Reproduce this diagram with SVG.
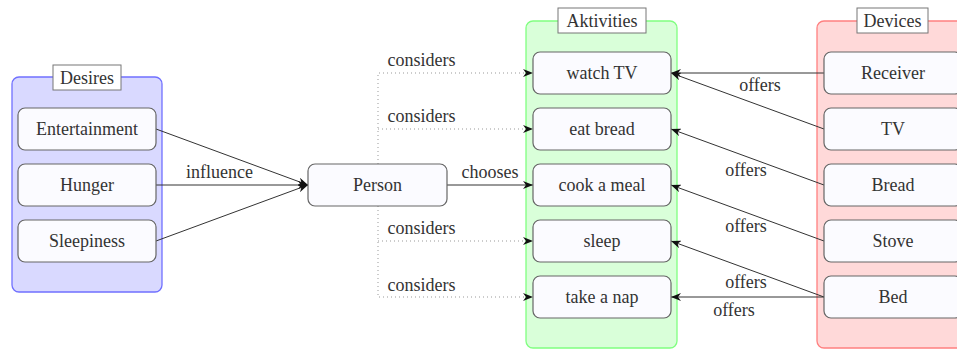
<svg xmlns="http://www.w3.org/2000/svg" width="957" height="349" viewBox="0 0 957 349" font-family="'Liberation Serif', 'DejaVu Serif', serif">
<style>
text{font-family:'Liberation Serif','DejaVu Serif',serif;font-size:18px;fill:#333;text-anchor:middle}
.node{fill:#fbfbff;stroke:#666;stroke-width:1.2}
.lbl{fill:#fff;stroke:#777;stroke-width:1}
.edge{fill:none;stroke:#333;stroke-width:1}
.dot{fill:none;stroke:#999;stroke-width:1;stroke-dasharray:1 3}
</style>
<defs>
<marker id="ah" markerUnits="userSpaceOnUse" markerWidth="11" markerHeight="8" refX="10" refY="4" orient="auto">
<path d="M0,0 L10,4 L0,8 L3,4 z" fill="#111"/>
</marker>
</defs>

<g id="desires">
<rect x="12" y="77" width="150" height="215" rx="7" fill="#d9d9ff" stroke="#7070ff" stroke-width="1.3"/>
<rect class="lbl" x="53" y="65" width="68" height="25"/>
<text x="87" y="84">Desires</text>
</g>
<g id="aktivities">
<rect x="526" y="21" width="151" height="327" rx="7" fill="#d9ffd9" stroke="#80ff80" stroke-width="1.3"/>
<rect class="lbl" x="558" y="8" width="88" height="25"/>
<text x="602" y="27">Aktivities</text>
</g>
<g id="devices">
<rect x="817" y="21" width="151" height="327" rx="7" fill="#ffd9d9" stroke="#ff8080" stroke-width="1.3"/>
<rect class="lbl" x="857" y="8" width="71" height="25"/>
<text x="892.5" y="27">Devices</text>
</g>

<g id="connectors">
<line class="edge" x1="156" y1="129" x2="308" y2="185" marker-end="url(#ah)"/>
<line class="edge" x1="156" y1="185" x2="308" y2="185" marker-end="url(#ah)"/>
<line class="edge" x1="156" y1="241" x2="308" y2="185" marker-end="url(#ah)"/>
<text x="219.5" y="178">influence</text>
<line class="edge" x1="447" y1="185" x2="533" y2="185" marker-end="url(#ah)"/>
<text x="490" y="178">chooses</text>
<path class="dot" d="M378,164 V73 H531"/>
<path class="dot" d="M378,129 H531"/>
<path class="dot" d="M378,206 V297 H531"/>
<path class="dot" d="M378,241 H531"/>
<line x1="528" y1="73" x2="533" y2="73" stroke="none" marker-end="url(#ah)"/>
<line x1="528" y1="129" x2="533" y2="129" stroke="none" marker-end="url(#ah)"/>
<line x1="528" y1="241" x2="533" y2="241" stroke="none" marker-end="url(#ah)"/>
<line x1="528" y1="297" x2="533" y2="297" stroke="none" marker-end="url(#ah)"/>
<text x="421.5" y="66">considers</text>
<text x="421.5" y="122">considers</text>
<text x="421.5" y="234">considers</text>
<text x="421.5" y="291">considers</text>
<line class="edge" x1="824" y1="73" x2="671" y2="73" marker-end="url(#ah)"/>
<line class="edge" x1="824" y1="129" x2="671" y2="73" marker-end="url(#ah)"/>
<line class="edge" x1="824" y1="185" x2="671" y2="129" marker-end="url(#ah)"/>
<line class="edge" x1="824" y1="241" x2="671" y2="185" marker-end="url(#ah)"/>
<line class="edge" x1="824" y1="297" x2="671" y2="241" marker-end="url(#ah)"/>
<line class="edge" x1="824" y1="297" x2="671" y2="297" marker-end="url(#ah)"/>
<text x="760" y="91">offers</text>
<text x="746" y="176">offers</text>
<text x="746" y="232">offers</text>
<text x="746" y="288">offers</text>
<text x="734" y="316">offers</text>
</g>

<g id="entertainment"><rect class="node" x="18" y="108" width="138" height="42" rx="7"/><text x="87" y="135">Entertainment</text></g>
<g id="hunger"><rect class="node" x="18" y="164" width="138" height="42" rx="7"/><text x="87" y="191">Hunger</text></g>
<g id="sleepiness"><rect class="node" x="18" y="220" width="138" height="42" rx="7"/><text x="87" y="247">Sleepiness</text></g>

<g id="person"><rect class="node" x="308" y="164" width="139" height="42" rx="7"/><text x="377.5" y="191">Person</text></g>

<g id="watchtv"><rect class="node" x="533" y="52" width="138" height="42" rx="7"/><text x="602" y="79">watch TV</text></g>
<g id="eatbread"><rect class="node" x="533" y="108" width="138" height="42" rx="7"/><text x="602" y="135">eat bread</text></g>
<g id="cookameal"><rect class="node" x="533" y="164" width="138" height="42" rx="7"/><text x="602" y="191">cook a meal</text></g>
<g id="sleep"><rect class="node" x="533" y="220" width="138" height="42" rx="7"/><text x="602" y="247">sleep</text></g>
<g id="takeanap"><rect class="node" x="533" y="276" width="138" height="42" rx="7"/><text x="602" y="303">take a nap</text></g>

<g id="receiver"><rect class="node" x="824" y="52" width="138" height="42" rx="7"/><text x="893" y="79">Receiver</text></g>
<g id="tv"><rect class="node" x="824" y="108" width="138" height="42" rx="7"/><text x="893" y="135">TV</text></g>
<g id="bread"><rect class="node" x="824" y="164" width="138" height="42" rx="7"/><text x="893" y="191">Bread</text></g>
<g id="stove"><rect class="node" x="824" y="220" width="138" height="42" rx="7"/><text x="893" y="247">Stove</text></g>
<g id="bed"><rect class="node" x="824" y="276" width="138" height="42" rx="7"/><text x="893" y="303">Bed</text></g>
</svg>
